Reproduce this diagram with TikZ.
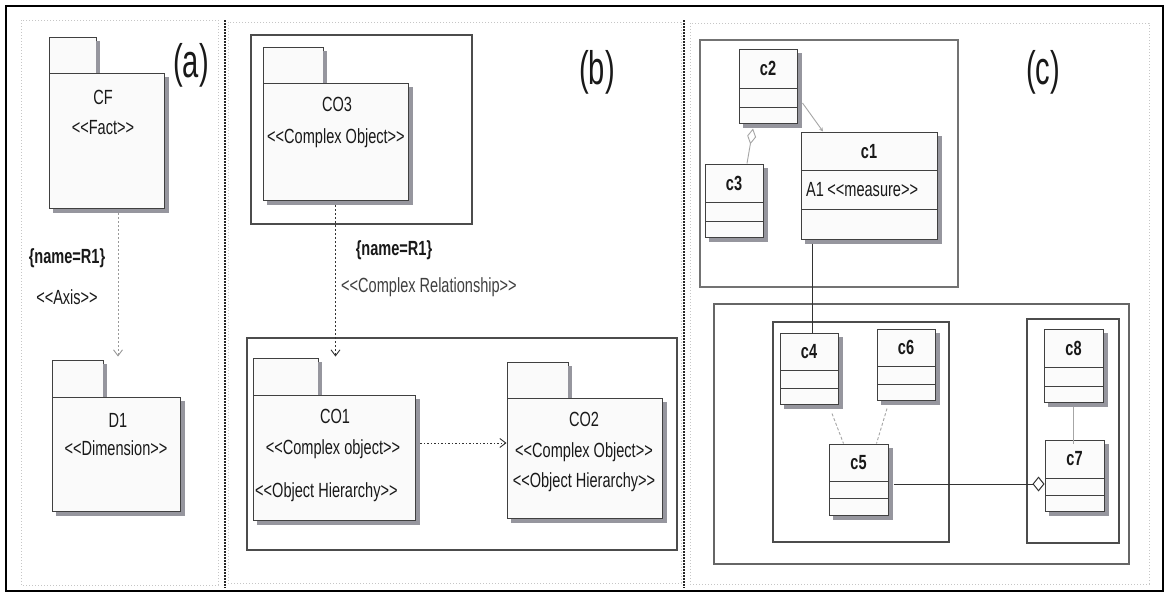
\documentclass[tikz,border=0pt]{standalone}
\usepackage{fontspec}
\setmainfont[FakeStretch=0.71,Ligatures=TeXOff]{Liberation Sans}
\newfontfamily\labfont[FakeStretch=0.62,Ligatures=TeXOff]{Liberation Sans}
\usetikzlibrary{arrows.meta,fit,calc}

\definecolor{shadowgray}{RGB}{150,150,158}
\tikzset{
  txt/.style={font=\fontsize{20.5}{23}\selectfont, text=black!90, inner sep=0pt},
  btxt/.style={font=\fontsize{20.5}{23}\selectfont\bfseries, text=black!90, inner sep=0pt},
  lab/.style={font=\labfont\fontsize{47}{50}\selectfont, text=black!90, inner sep=0pt},
  frame/.style={draw=black, line width=2.2pt},
  panel/.style={draw=gray!45, line width=0.9pt, dash pattern=on 1pt off 2pt},
  sepline/.style={draw=black!85, line width=1.4pt, dash pattern=on 1.5pt off 1.5pt},
  box/.style={draw=black!70, line width=1.1pt, inner sep=0pt},
  shadowline/.style={draw=shadowgray, line width=4pt, line cap=butt, line join=miter},
  pkgpart/.style={draw=black!75, line width=0.9pt, fill=gray!4, inner sep=0pt},
  cls/.style={draw=black!75, line width=1pt, fill=gray!3, inner sep=0pt},
  clsline/.style={draw=black!75, line width=1pt},
  dep/.style={draw=black!80, line width=0.9pt, dash pattern=on 2pt off 2pt,
    -{Straight Barb[length=6pt,width=9pt]}},
  assoc/.style={draw=black!80, line width=1pt},
  lightassoc/.style={draw=gray!70, line width=0.9pt},
}

% shadow strips: right and bottom of box (x1,y1)-(x2,y2)
\newcommand\boxshadow[4]{%
  \draw[shadowline] ({#3+2.6},{#2+4}) -- ({#3+2.6},{#4+2.6}) -- ({#1+4},{#4+2.6});
}
\newcommand\umlcls[8]{%
  \node[cls, fit={(#2,#3) (#4,#5)}] (#1) {};
  \boxshadow{#2}{#3}{#4}{#5}
  \draw[clsline] (#2,#6) -- (#4,#6) (#2,#7) -- (#4,#7);
  \node[btxt] (#1t) at ({(#2+#4)/2},{(#3+#6)/2}) {#8};
}
\newcommand\umlpkg[7]{%
  \node[pkgpart, fit={(#2,#3) (#4,#5)}] (#1t) {};
  \draw[shadowline] ({#4+2.4},{#3+4}) -- ({#4+2.4},{#5});
  \node[pkgpart, fit={(#2,#5) (#6,#7)}] (#1) {};
  \boxshadow{#2}{#5}{#6}{#7}
}

\begin{document}
\begin{tikzpicture}[x=1pt,y=-1pt]
\useasboundingbox (0,0) rectangle (1168,595);
\fill[white] (0,0) rectangle (1168,595);

% frame and panels
\draw[frame] (6,6) rectangle (1163,591);
\draw[panel] (21,20) rectangle (218,585);
\draw[panel] (228,22) rectangle (681,583);
\draw[panel] (690,23) rectangle (1149,584);
\draw[sepline] (225,20) -- (225,588);
\draw[sepline] (684,20) -- (684,588);

% ---------------- panel (a)
\node[lab] (la) at (191,65) {(a)};
\umlpkg{CF}{49}{37}{96}{73}{164}{208}
\node[txt] (CFn) at (103,97) {CF};
\node[txt] (CFs) at (103,128) {<<Fact>>};
\umlpkg{D1}{52}{360}{103}{397}{180}{511}
\node[txt] (D1n) at (118,420) {D1};
\node[txt] (D1s) at (116,448) {<<Dimension>>};
\draw[dep, draw=gray!80, shorten <=5pt, shorten >=3pt]
  ([xshift=11.5pt]CF.south) -- ([xshift=11.5pt]CF.south |- D1t.north);
\node[btxt] (Ra) at (67,258) {\{name=R1\}};
\node[txt] (Axa) at (67,297) {<<Axis>>};

% ---------------- panel (b)
\node[lab] (lb) at (597,72) {(b)};
\node[box, fit={(251,35) (472,224)}] (boxCO3) {};
\node[box, fit={(247,338) (677,550)}] (boxLow) {};
\umlpkg{CO3}{263}{47}{323}{83}{408}{200}
\node[txt] (CO3n) at (337,104) {CO3};
\node[txt] (CO3s) at (336,138) {<<Complex Object>>};
\umlpkg{CO1}{253}{358}{318}{395}{415}{520}
\node[txt] (CO1n) at (335,416) {CO1};
\node[txt] (CO1s) at (333,449) {<<Complex object>>};
\node[txt, anchor=west] (CO1h) at (255,492) {<<Object Hierarchy>>};
\umlpkg{CO2}{507}{362}{568}{398}{662}{518}
\node[txt] (CO2n) at (584,419) {CO2};
\node[txt] (CO2s) at (584,452) {<<Complex Object>>};
\node[txt] (CO2h) at (584,482) {<<Object Hierarchy>>};
\draw[dep, shorten <=5pt]
  (CO3.south) -- ([yshift=1pt]CO3.south |- CO1t.north);
\node[btxt] (Rb) at (394,250) {\{name=R1\}};
\node[txt, anchor=west, text=black!75] (CRb) at (341,287) {<<Complex Relationship>>};
\draw[dep, dash pattern=on 1.5pt off 2pt, shorten <=5pt]
  ([yshift=14.5pt]CO1.east) -- ([yshift=14.5pt]CO1.east -| CO2.west);

% ---------------- panel (c)
\node[lab] (lc) at (1043,72) {(c)};
\node[box, draw=black!55, fit={(700,40) (958,287)}] (boxUp) {};
\node[box, draw=black!60, fit={(714,304) (1129,564)}] (boxDown) {};
\node[box, fit={(773,322) (949,542)}] (boxL) {};
\node[box, fit={(1027,319) (1119,543)}] (boxR) {};

\umlcls{c2}{739}{49}{797}{123}{88}{107}{c2}
\umlcls{c3}{705}{164}{763}{237}{202}{221}{c3}
\node[cls, fit={(801,132) (937,239)}] (c1) {};
\boxshadow{801}{132}{937}{239}
\draw[clsline] (801,170) -- (937,170) (801,209) -- (937,209);
\node[btxt] (c1t) at (869,152) {c1};
\node[txt, anchor=west] (c1a) at (806,190) {A1\,<<measure>>};

\umlcls{c4}{780}{333}{838}{404}{370}{388}{c4}
\umlcls{c6}{877}{329}{935}{400}{366}{384}{c6}
\umlcls{c5}{829}{444}{888}{515}{481}{498}{c5}
\umlcls{c8}{1044}{329}{1103}{402}{367}{386}{c8}
\umlcls{c7}{1045}{440}{1104}{511}{478}{495}{c7}

% connectors in (c)
\draw[lightassoc, -{Stealth[length=4pt,width=4pt]}]
  ([xshift=5pt,yshift=-17pt]c2.east) -- ([xshift=-46pt]c1.north);
\draw[lightassoc, -{Diamond[open,fill=white,length=16pt,width=9pt]}]
  ([xshift=13pt]c3.north) -- ([xshift=-15pt,yshift=-5pt]c2.south);
\draw[assoc]
  ([xshift=12pt,yshift=-4pt]c1.south west) -- ([xshift=12pt]c1.south west |- c4.north);
\draw[lightassoc, dash pattern=on 3pt off 2pt]
  ([xshift=23pt,yshift=-9pt]c4.south) -- ([xshift=-15pt]c5.north);
\draw[lightassoc, dash pattern=on 3pt off 2pt]
  ([xshift=-19pt,yshift=-8pt]c6.south) -- ([xshift=18pt]c5.north);
\draw[lightassoc]
  ([yshift=-4pt]c8.south) -- ([yshift=-4pt]c8.south |- c7.north);
\draw[assoc, -{Diamond[open,fill=white,length=12pt,width=15pt]}]
  ([xshift=5pt,yshift=-4.5pt]c5.east) -- ([yshift=-4.5pt]c5.east -| c7.west);
\end{tikzpicture}
\end{document}
